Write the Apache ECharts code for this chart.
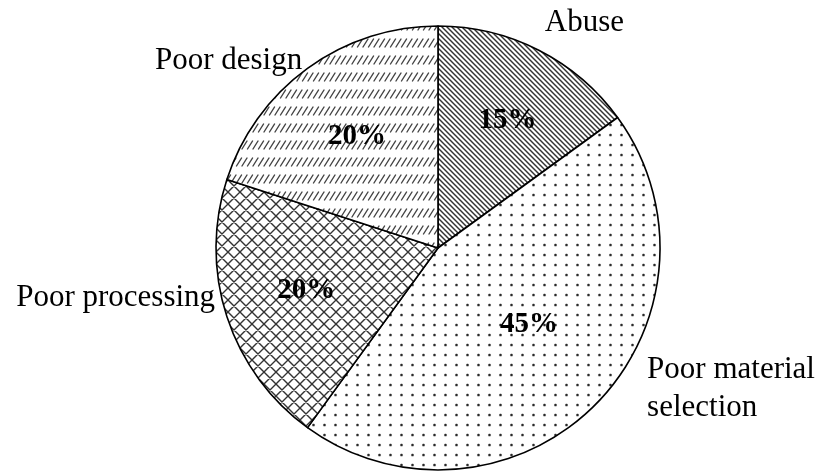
<!DOCTYPE html>
<html><head><meta charset="utf-8">
<script src="https://cdn.jsdelivr.net/npm/echarts@6/dist/echarts.min.js"></script>
<style>html,body{margin:0;padding:0;background:#fff}#c{width:819px;height:472px}</style>
</head><body><div id="c"></div>
<script>
// ---- data ----
const categories = ['Abuse', 'Poor material selection', 'Poor processing', 'Poor design'];
const values = [15, 45, 20, 20];
const nameLabels = ['Abuse', 'Poor material\nselection', 'Poor processing', 'Poor design'];

// ---- style / layout constants ----
const CX = 438, CY = 248, R = 222;
// [angle offset from slice middle (deg), radius fraction]
const pctPolar = [[1.5, 0.655], [-5, 0.535], [0, 0.624], [0, 0.62]];
const namePolar = [[-1.6, 1.122, 'left'], [-11, 1.136, 'left'], [5.4, 1.029, 'right'], [0, 1.041, 'right']];

function tile(w, h, draw) {
  const c = document.createElement('canvas');
  c.width = w; c.height = h;
  const g = c.getContext('2d');
  g.fillStyle = '#fff'; g.fillRect(0, 0, w, h);
  draw(g, w, h);
  return c;
}
const stripes = tile(5, 5, (g, w, h) => {
  g.strokeStyle = '#333'; g.lineWidth = 1.45; g.beginPath();
  for (let k = -1; k <= 1; k++) { g.moveTo(k * w - 1, -1); g.lineTo(k * w + w + 1, h + 1); }
  g.stroke();
});
const dots = tile(11, 10, (g, w, h) => {
  g.fillStyle = '#888'; g.beginPath(); g.arc(5.5, 5, 1.6, 0, Math.PI * 2); g.fill();
  g.fillStyle = '#222'; g.beginPath(); g.arc(5.5, 5, 1.0, 0, Math.PI * 2); g.fill();
});
const cross = tile(12, 12, (g, w, h) => {
  g.strokeStyle = '#333'; g.lineWidth = 1.4; g.beginPath();
  for (let k = -1; k <= 1; k++) {
    g.moveTo(k * w - 1, -1); g.lineTo(k * w + w + 1, h + 1);
    g.moveTo(k * w - 1, h + 1); g.lineTo(k * w + w + 1, -1);
  }
  g.stroke();
});
const dashes = tile(11, 17, (g, w, h) => {
  g.strokeStyle = '#444'; g.lineWidth = 1.4; g.lineCap = 'round'; g.beginPath();
  for (let k = -2; k <= 3; k++) {
    const x0 = k * 5.5;
    g.moveTo(x0, 13); g.lineTo(x0 + 5, 5);
  }
  g.stroke();
});
const fills = [stripes, dots, cross, dashes];

const total = values.reduce((a, b) => a + b, 0);
const mids = [];
{ let cum = 0; values.forEach(v => { mids.push((cum + v / 2) / total * 360); cum += v; }); }
function polar(angDeg, f) {
  const a = angDeg * Math.PI / 180;
  return [CX + f * R * Math.sin(a), CY - f * R * Math.cos(a)];
}

const pieData = categories.map((c, i) => ({
  name: c, value: values[i],
  itemStyle: { color: { image: fills[i], repeat: 'repeat' } }
}));
const nameData = categories.map((c, i) => ({ name: c, value: values[i] }));

const chart = echarts.init(document.getElementById('c'), null, { renderer: 'canvas' });
chart.setOption({
  backgroundColor: '#fff',
  animation: false,
  series: [
    {
      type: 'pie', center: [CX, CY], radius: R, startAngle: 90, clockwise: true,
      avoidLabelOverlap: false, silent: true,
      data: pieData,
      itemStyle: { borderColor: '#000', borderWidth: 1.6 },
      label: {
        show: true, position: 'inside', formatter: p => p.value + '%',
        fontFamily: 'Liberation Serif', fontWeight: 'bold', fontSize: 29, color: '#000'
      },
      labelLine: { show: false },
      labelLayout: p => {
        const i = p.dataIndex;
        const [x, y] = polar(mids[i] + pctPolar[i][0], pctPolar[i][1]);
        return { x, y, align: 'center', verticalAlign: 'middle' };
      },
      emphasis: { disabled: true }
    },
    {
      type: 'pie', center: [CX, CY], radius: R, startAngle: 90, clockwise: true,
      avoidLabelOverlap: false, silent: true,
      data: nameData,
      itemStyle: { color: 'rgba(0,0,0,0)', borderWidth: 0 },
      label: {
        show: true, position: 'outside', formatter: p => nameLabels[p.dataIndex],
        fontFamily: 'Liberation Serif', fontSize: 31, lineHeight: 38, color: '#000'
      },
      labelLine: { show: false },
      labelLayout: p => {
        const i = p.dataIndex;
        const [x, y] = polar(mids[i] + namePolar[i][0], namePolar[i][1]);
        return { x, y, align: namePolar[i][2], verticalAlign: 'middle' };
      },
      emphasis: { disabled: true }
    }
  ]
});
</script>
</body></html>
